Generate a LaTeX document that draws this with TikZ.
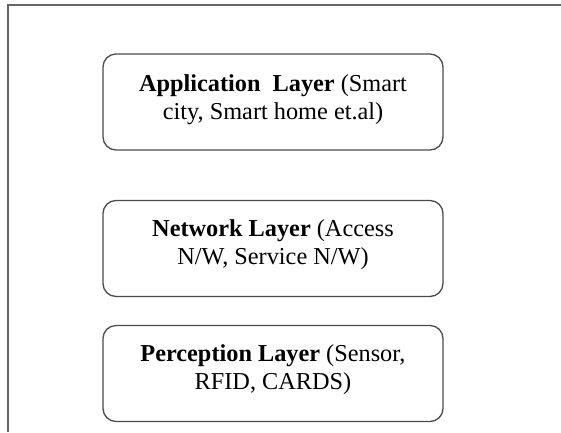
\documentclass[tikz,border=0pt]{standalone}
\usepackage{fontspec}
\setmainfont{Liberation Serif}
\begin{document}
\begin{tikzpicture}[x=1pt,y=-1pt,
  layerbox/.style={draw=black!70, line width=1.3pt, rounded corners=13pt,
    minimum width=340pt, minimum height=96pt, inner sep=0pt},
  layertext/.style={align=center, font=\fontsize{24.3}{28}\selectfont, inner sep=0pt}]
\useasboundingbox (0,0) rectangle (561,432);
\fill[white] (0,0) rectangle (561,432);
\coordinate (fbl) at (8,432);
\coordinate (ftl) at (8,5);
\coordinate (ftr) at (561,5);
\draw[black!60, line width=1.3pt] (fbl) -- (ftl) -- (ftr);
\node[layerbox] (app) at (273,102) {};
\node[layerbox] (net) at (273,248.5) {};
\node[layerbox] (per) at (273,373.5) {};
\node[layertext] (apptxt) at (273,100) {\textbf{Application\ \ Layer} (Smart\\city, Smart home et.al)};
\node[layertext] (nettxt) at (273,245) {\textbf{Network Layer} (Access\\N/W, Service N/W)};
\node[layertext] (pertxt) at (273,370) {\textbf{Perception Layer} (Sensor,\\RFID, CARDS)};
\end{tikzpicture}
\end{document}
